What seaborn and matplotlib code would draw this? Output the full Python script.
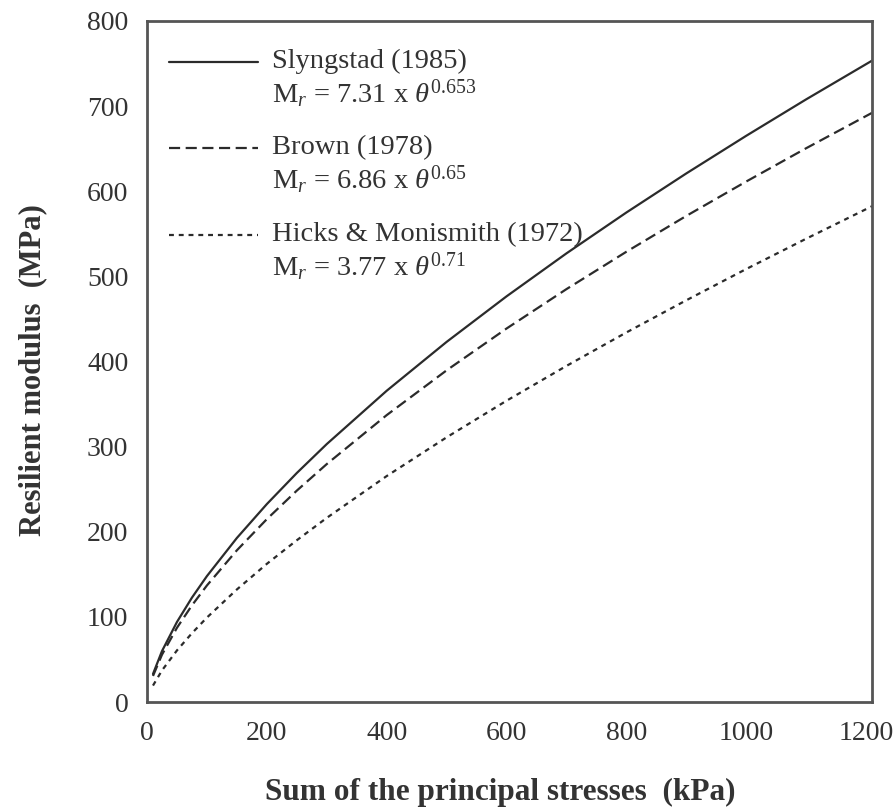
import matplotlib
matplotlib.use("Agg")
import matplotlib.pyplot as plt
import seaborn as sns
import pandas as pd

# Sum of principal stresses theta (kPa) and resilient modulus (MPa)
theta = [10, 25, 50, 75, 100, 150, 200, 250, 300, 400, 500, 600, 700, 800, 900, 1000, 1100, 1210]
slyngstad = [32.9, 59.8, 94.0, 122.6, 147.9, 192.7, 232.5, 269.0, 303.0, 365.6, 423.0, 476.5,
             527.0, 575.0, 620.9, 665.1, 707.9, 753.4]
brown = [30.6, 55.6, 87.2, 113.5, 136.9, 178.2, 214.8, 248.3, 279.5, 337.0, 389.6, 438.7,
         485.0, 528.9, 571.0, 611.4, 650.5, 692.1]
hicks = [19.3, 37.1, 60.6, 80.8, 99.2, 132.2, 162.3, 190.0, 216.3, 265.4, 310.9, 353.9,
         394.8, 434.1, 471.9, 508.6, 544.2, 582.4]

series_names = ["Slyngstad (1985)", "Brown (1978)", "Hicks & Monismith (1972)"]
equations = [r"M$_r$ = 7.31 x $\theta^{0.653}$",
             r"M$_r$ = 6.86 x $\theta^{0.65}$",
             r"M$_r$ = 3.77 x $\theta^{0.71}$"]
xticks = [0, 200, 400, 600, 800, 1000, 1200]
yticks = [0, 100, 200, 300, 400, 500, 600, 700, 800]

sns.set_style("white")
plt.rcParams["font.family"] = ["Liberation Serif", "DejaVu Serif"]
plt.rcParams["mathtext.fontset"] = "custom"
plt.rcParams["mathtext.rm"] = "Liberation Serif"
plt.rcParams["mathtext.it"] = "Liberation Serif:italic"

fig = plt.figure(figsize=(8.93, 8.08), dpi=100)
ax = fig.add_axes([147 / 893, 1 - 702 / 808, 725 / 893, 681 / 808])

lc = "#2b2b2b"
styles = ["-", (0, (5, 2.5)), (0, (2.2, 2.2))]
data = [slyngstad, brown, hicks]
for name, vals, ls in zip(series_names, data, styles):
    df = pd.DataFrame({"theta": theta, "Mr": vals})
    sns.lineplot(data=df, x="theta", y="Mr", ax=ax, color=lc, linewidth=1.6,
                 linestyle=ls, legend=False)

ax.set_xlim(0, 1210)
ax.set_ylim(0, 800)
ax.set_xticks(xticks)
ax.set_yticks(yticks)
ax.set_xticklabels([str(v) for v in xticks], fontsize=20)
ax.set_yticklabels([str(v) for v in yticks], fontsize=20)
ax.tick_params(axis="both", direction="in", length=6, width=1.2, colors="#555555")
ax.tick_params(axis="y", pad=13.5)
ax.tick_params(axis="x", pad=14)
for lab in ax.get_xticklabels() + ax.get_yticklabels():
    lab.set_color("#333333")

for sp in ax.spines.values():
    sp.set_color("#555555")
    sp.set_linewidth(2.0)

ax.set_xlabel("Sum of the principal stresses  (kPa)", fontsize=22.5, fontweight="bold",
              color="#333333", labelpad=23)
ax.set_ylabel("Resilient modulus  (MPa)", fontsize=22, fontweight="bold",
              color="#333333", labelpad=28.5)
ax.xaxis.label.set_x(0.487)
ax.yaxis.label.set_y(0.4875)

# legend keys and text (axes fraction)
rows = [(0.940, 0.893), (0.8135, 0.7665), (0.686, 0.639)]
for (yn, ye), ls, name, eq in zip(rows, styles, series_names, equations):
    ax.plot([0.031, 0.153], [yn, yn], transform=ax.transAxes, color=lc,
            linewidth=1.6, linestyle=ls)
    ax.text(0.172, yn, name, transform=ax.transAxes, fontsize=20.5, va="center",
            ha="left", color="#333333")
    ax.text(0.172, ye, eq, transform=ax.transAxes, fontsize=20.5, va="center",
            ha="left", color="#333333")

fig.savefig("out.png", dpi=100, facecolor="white")
